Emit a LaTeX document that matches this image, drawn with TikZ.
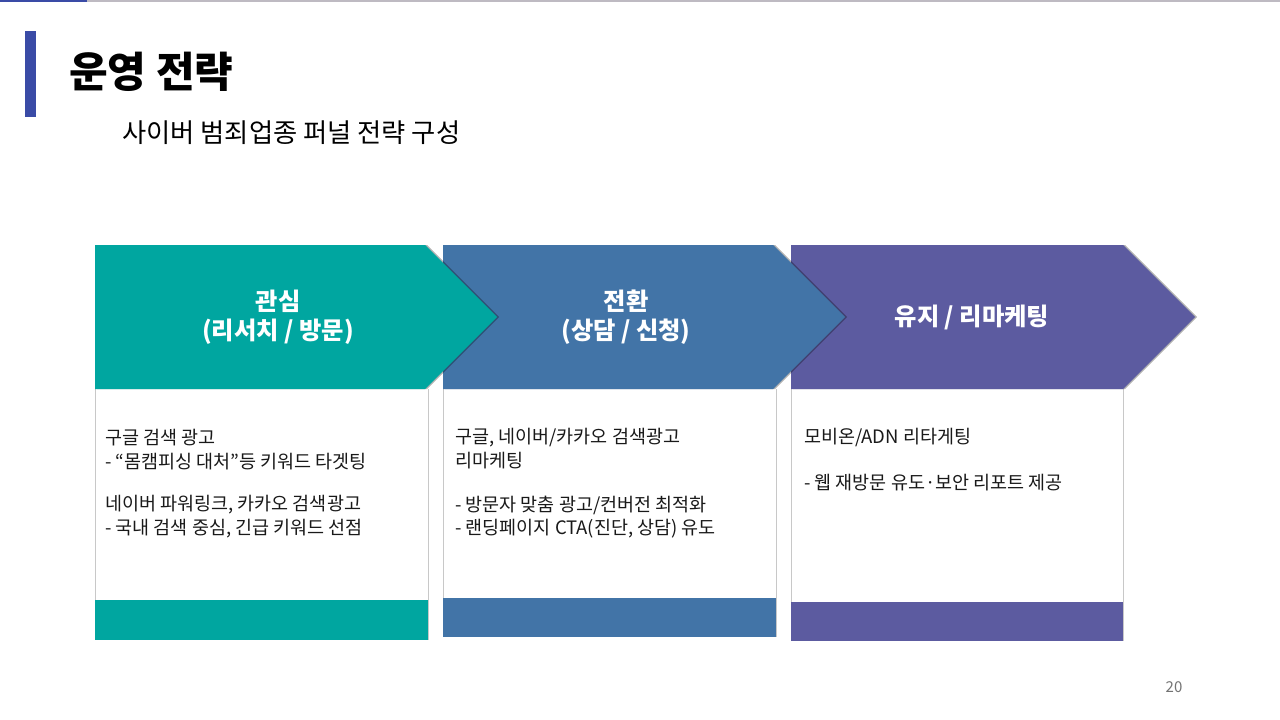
\documentclass[tikz,border=0pt]{standalone}
\usepackage{fontspec}
\setmainfont{Noto Sans CJK KR}
\usetikzlibrary{calc}
\definecolor{cteal}{RGB}{0,166,160}
\definecolor{cblue}{RGB}{66,116,167}
\definecolor{cpurple}{RGB}{92,91,160}
\definecolor{cbar}{RGB}{58,75,166}
\definecolor{cline}{RGB}{190,186,194}
\definecolor{cedge}{RGB}{200,200,200}
\tikzset{
  arrowshape/.style={fill=#1, draw=none},
  shadowshape/.style={fill=black, fill opacity=0.3, draw=none},
  headtext/.style={text=white, font=\bfseries\fontsize{24.3}{29}\selectfont, align=center, inner sep=0},
  cardtext/.style={text=black!90, font=\fontsize{18.5}{24}\selectfont, anchor=west, inner sep=0},
  cardedge/.style={draw=cedge, line width=1pt},
}
\begin{document}
\begin{tikzpicture}[x=1pt,y=-1pt]
\useasboundingbox (0,0) rectangle (1280,720);
\fill[white] (0,0) rectangle (1280,720);
% top line
\fill[cline] (87,0) rectangle (1280,2);
\fill[cbar] (0,0) rectangle (87,2);
% left bar
\fill[cbar] (25,31) rectangle (36,117);
% titles
\node[anchor=west, inner sep=0, font=\bfseries\fontsize{42}{50}\selectfont] (title) at (69,72) {운영 전략};
\node[anchor=west, inner sep=0, font=\fontsize{26.3}{32}\selectfont] (subtitle) at (122,133) {사이버 범죄업종 퍼널 전략 구성};

% cards
\foreach \l/\r/\bt/\bb/\c in {95/428/600/640/cteal, 443/776/598/637/cblue, 791/1123/602/641/cpurple}{
  \fill[white] (\l,389) rectangle (\r,\bb);
  \draw[cardedge] (\l,389) -- (\l,\bb);
  \draw[cardedge] (\r,389) -- (\r,\bb);
  \fill[\c] (\l,\bt) rectangle (\r,\bb);
}

% arrows (right to left so left ones overlap)
\fill[shadowshape] (793,245) -- (1125,245) -- (1197,317) -- (1125,389) -- (793,389) -- cycle;
\fill[arrowshape=cpurple] (791,245) -- (1123,245) -- (1195,317) -- (1123,389) -- (791,389) -- cycle;
\fill[shadowshape] (445,245) -- (775,245) -- (847,317) -- (775,389) -- (445,389) -- cycle;
\fill[arrowshape=cblue] (443,245) -- (773,245) -- (845,317) -- (773,389) -- (443,389) -- cycle;
\fill[shadowshape] (97,245) -- (427,245) -- (499,317) -- (427,389) -- (97,389) -- cycle;
\fill[arrowshape=cteal] (95,245) -- (425,245) -- (497,317) -- (425,389) -- (95,389) -- cycle;

\node[headtext] (h1) at (278,317) {관심\\(리서치 / 방문)};
\node[headtext] (h2) at (626,317) {전환\\(상담 / 신청)};
\node[headtext] (h3) at (972,317) {유지 / 리마케팅};

% card texts
\node[cardtext] (a1) at (105,438) {구글 검색 광고};
\node[cardtext] (a2) at (105,462) {- “몸캠피싱 대처”등 키워드 타겟팅};
\node[cardtext] (a3) at (105,505) {네이버 파워링크, 카카오 검색광고};
\node[cardtext] (a4) at (105,529) {- 국내 검색 중심, 긴급 키워드 선점};

\node[cardtext] (b1) at (455,438) {구글, 네이버/카카오 검색광고};
\node[cardtext] (b2) at (455,461) {리마케팅};
\node[cardtext] (b3) at (455,505) {- 방문자 맞춤 광고/컨버전 최적화};
\node[cardtext] (b4) at (455,529) {- 랜딩페이지 CTA(진단, 상담) 유도};

\node[cardtext] (c1) at (804,438) {모비온/ADN 리타게팅};
\node[cardtext] (c2) at (804,483) {- 웹 재방문 유도·보안 리포트 제공};

\node[anchor=center, inner sep=0, text=black!55, font=\fontsize{15}{17}\selectfont] (pg) at (1174,687) {20};
\end{tikzpicture}
\end{document}
